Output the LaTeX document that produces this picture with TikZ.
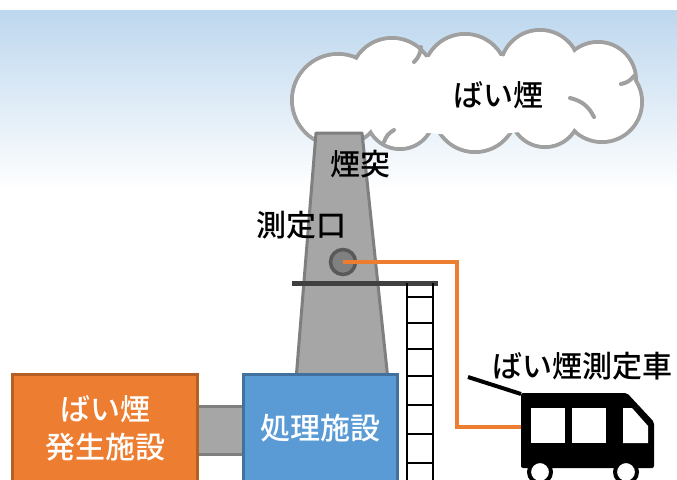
\documentclass[tikz,border=0pt]{standalone}
\usepackage{fontspec}
\setmainfont{Noto Sans CJK JP}[UprightFont = * Medium]
\usetikzlibrary{positioning}

\definecolor{skyblue}{RGB}{189,215,238}
\definecolor{stackgray}{RGB}{166,166,166}
\definecolor{stackedge}{RGB}{127,127,127}
\definecolor{portgray}{RGB}{128,128,128}
\definecolor{portedge}{RGB}{89,89,89}
\definecolor{cloudedge}{RGB}{160,160,160}
\definecolor{srcorange}{RGB}{237,125,49}
\definecolor{srcedge}{RGB}{180,95,35}
\definecolor{treatblue}{RGB}{91,155,213}
\definecolor{treatedge}{RGB}{65,113,156}

\tikzset{
  lbl/.style={font=\fontsize{30}{36}\selectfont, inner sep=0pt},
  facility/.style={draw, line width=3pt, minimum height=108pt, inner sep=0pt,
    text=white, align=center, font=\fontsize{30}{38}\selectfont},
  cloudline/.style={draw=cloudedge, line width=4pt, line cap=round},
  probe/.style={draw=srcorange, line width=4pt},
}

\begin{document}
\begin{tikzpicture}[x=1pt,y=-1pt]
\useasboundingbox (0,0) rectangle (677,479);
\clip (0,0) rectangle (677,479);

% sky
\fill[white] (0,0) rectangle (677,479);
\shade[top color=skyblue, bottom color=white] (0,10) rectangle (677,190);

% cloud: outlined puffs, then the inside painted over
\foreach \x/\y/\r in {338/100/46, 392/80/42, 465/76/42, 540/70/40, 598/80/38,
                      602/102/40, 545/112/35, 475/110/42, 400/115/34}
  \draw[cloudline, fill=white] (\x,\y) circle[radius=\r*1pt];
\foreach \x/\y/\r in {338/100/46, 392/80/42, 465/76/42, 540/70/40, 598/80/38,
                      602/102/40, 545/112/35, 475/110/42, 400/115/34}
  \fill[white] (\x,\y) circle[radius=\r*1pt-2pt];
\fill[white] (470,95) ellipse[x radius=130pt, y radius=40pt];
\draw[cloudline] (421,47) to[bend left=20] (414,62);
\draw[cloudline] (634,76) to[bend left=20] (621,84);
\draw[cloudline] (570,98) to[bend left=25] (594,117);
\draw[cloudline] (384,142) to[bend left=20] (394,130);
\node[lbl] (smoke) at (498,95) {ばい煙};

% chimney
\draw[stackedge, fill=stackgray, line width=3pt, line join=round]
  (316,133) -- (362,133) -- (388,380) -- (296,380) -- cycle;
\node[lbl] (stack) at (360,164) {煙突};
\node[lbl] (portlbl) at (301,225) {測定口};
\node[circle, draw=portedge, fill=portgray, line width=3.5pt, minimum size=25pt,
  inner sep=0pt] (port) at (343,262) {};

% platform and ladder
\draw[line width=5pt, black!75] (292,283) -- (438,283);
\draw[line width=2.5pt] (407,283) -- (407,485) (433,283) -- (433,485);
\foreach \y in {297,323,349,376,405,434,463}
  \draw[line width=2.5pt] (407,\y) -- (433,\y);

% facilities and the duct between them
\node[draw=stackedge, fill=stackgray, line width=3pt, minimum width=48pt,
  minimum height=48pt] (duct) at (220,430) {};
\node[facility, fill=srcorange, draw=srcedge, minimum width=185pt]
  (source) at (105,428) {ばい煙\\発生施設};
\node[facility, fill=treatblue, draw=treatedge, minimum width=154pt]
  (treat) at (320,428) {処理施設};

% measuring vehicle
\fill[black, rounded corners=2pt]
  (521,393) -- (627,393) -- (654,422) -- (654,468) -- (521,468) -- cycle;
\fill[white] (531,408) rectangle (565,443);
\fill[white] (572,408) rectangle (606,443);
\fill[white] (623,408) -- (632,408) -- (648,426) -- (648,443) -- (623,443) -- cycle;
\foreach \x in {540,626}
  \draw[line width=4pt, fill=white] (\x,472) circle[radius=11pt];
\coordinate (roof) at (521,394);
\coordinate (mast) at (468,377);
\coordinate (inlet) at (521,427);
\coordinate (bend) at (457,262);
\draw[line width=4pt] (mast) -- (roof);
\node[lbl] (car) at (582,366) {ばい煙測定車};

% sampling line
\draw[probe] (port.center) -- (bend) |- (inlet);
\end{tikzpicture}
\end{document}
